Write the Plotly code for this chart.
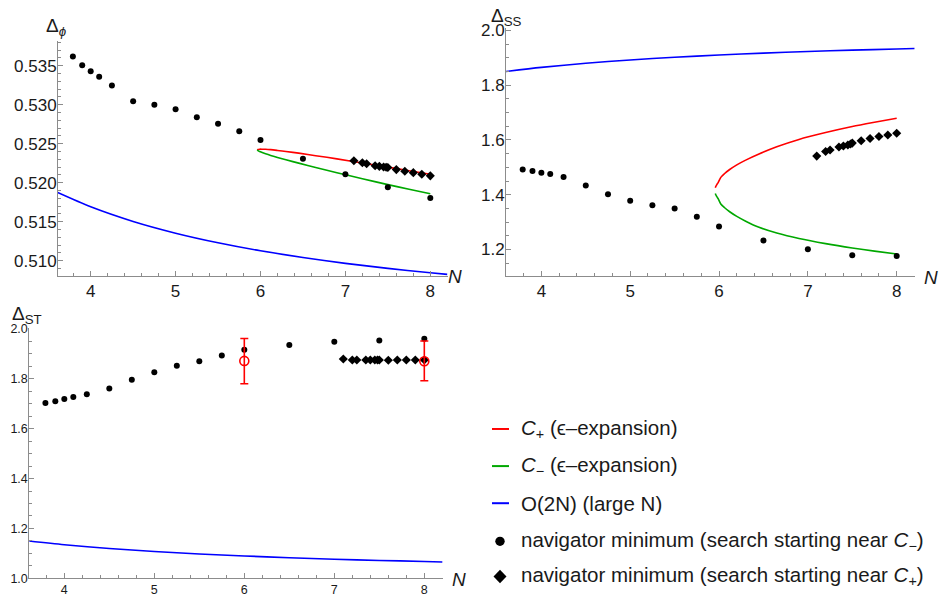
import plotly.graph_objects as go

# ---------------- data ----------------
N_dots = [3.79, 3.9, 4.0, 4.1, 4.25, 4.5, 4.75, 5.0, 5.25, 5.5, 5.75, 6.0, 6.5, 7.0, 7.5, 8.0]
phi_dots = [0.53617, 0.53504, 0.53429, 0.53358, 0.53245, 0.53045, 0.52998, 0.52940,
            0.52839, 0.52756, 0.52660, 0.52547, 0.52308, 0.52108, 0.51941, 0.51803]
ss_dots = [1.4923, 1.4863, 1.4804, 1.4756, 1.4649, 1.4340, 1.4019, 1.3780,
           1.3615, 1.3496, 1.3199, 1.2842, 1.2330, 1.2010, 1.1795, 1.1760]
st_dots = [1.7027, 1.7093, 1.7184, 1.7262, 1.7379, 1.7601, 1.7953, 1.8253,
           1.8514, 1.8696, 1.8931, 1.9153, 1.9348, 1.9478, 1.9531, 1.9596]

N_diam = [7.1, 7.2, 7.25, 7.35, 7.4, 7.45, 7.48, 7.5, 7.6, 7.7, 7.8, 7.9, 8.0]
phi_diam = [0.52280, 0.52255, 0.52243, 0.52217, 0.52209, 0.52201, 0.52197, 0.52194,
            0.52167, 0.52147, 0.52128, 0.52107, 0.52087]
ss_diam = [1.5410, 1.5577, 1.5636, 1.5743, 1.5780, 1.5814, 1.5850, 1.5886,
           1.5970, 1.6052, 1.6124, 1.6183, 1.6243]
st_diam = [1.8787, 1.8748, 1.8748, 1.8748, 1.8748, 1.8748, 1.8748, 1.8748,
           1.8735, 1.8748, 1.8748, 1.8748, 1.8748]

# epsilon-expansion branches
N_phi_branch = [5.962, 5.97, 5.99, 6.02, 6.06, 6.12, 6.2, 6.3, 6.45, 6.65, 6.9,
                7.2, 7.5, 7.75, 8.0]
phi_plus = [0.52420, 0.52426, 0.52429, 0.52429, 0.52428, 0.52423, 0.52413, 0.52399,
            0.52378, 0.52346, 0.52305, 0.52252, 0.52199, 0.52153, 0.52107]
phi_minus = [0.52420, 0.52410, 0.52399, 0.52385, 0.52370, 0.52349, 0.52323, 0.52293,
             0.52250, 0.52194, 0.52127, 0.52050, 0.51975, 0.51915, 0.51858]

N_ss_branch = [5.958, 5.965, 5.975, 5.99, 6.02, 6.06, 6.12, 6.2, 6.3, 6.45, 6.65,
               6.9, 7.2, 7.5, 7.75, 8.0]
ss_plus = [1.4254, 1.4310, 1.4370, 1.4440, 1.4635, 1.4766, 1.4921, 1.5091, 1.5265,
           1.5488, 1.5750, 1.6020, 1.6270, 1.6490, 1.6645, 1.6790]
ss_minus = [1.4046, 1.3990, 1.3930, 1.3860, 1.3665, 1.3534, 1.3379, 1.3209, 1.3035,
            1.2812, 1.2602, 1.2402, 1.2215, 1.2057, 1.1942, 1.1836]

# large-N curves
N_large = [3.6, 4.0, 4.5, 5.0, 5.5, 6.0, 6.5, 7.0, 7.5, 8.0, 8.2]
phi_large = [0.51878, 0.51690, 0.51502, 0.51352, 0.51229, 0.51126, 0.51040, 0.50965,
             0.50901, 0.50844, 0.50824]
ss_large = [1.850, 1.865, 1.880, 1.892, 1.902, 1.910, 1.917, 1.923, 1.928, 1.932, 1.934]
st_large = [1.150, 1.135, 1.120, 1.108, 1.098, 1.090, 1.083, 1.077, 1.072, 1.068, 1.066]

# error-bar estimates (Delta_ST)
N_err = [6.0, 8.0]
st_err = [1.8709, 1.8696]
st_err_plus = [0.0900, 0.0809]
st_err_minus = [0.0912, 0.0782]

legend_labels = [
    "<i>C</i><sub>+</sub> (ϵ–expansion)",
    "<i>C</i><sub>−</sub> (ϵ–expansion)",
    "O(2N) (large N)",
    "navigator minimum (search starting near <i>C</i><sub>−</sub>)",
    "navigator minimum (search starting near <i>C</i><sub>+</sub>)",
]

# ---------------- styling ----------------
W, H = 940, 603
RED, GREEN, BLUE = "#ff0000", "#00a800", "#0000ff"
AX = "#8c8c8c"
TXT = "#1a1a1a"
FONT = "Liberation Sans"


def fx(p):
    return p / W


def fy(p):
    return 1 - p / H


fig = go.Figure()


def add_lines(xa, ya, n_list, y_list, color):
    fig.add_trace(go.Scatter(x=n_list, y=y_list, mode="lines", xaxis=xa, yaxis=ya,
                             line=dict(color=color, width=1.6, shape="spline", smoothing=0.8),
                             showlegend=False, hoverinfo="skip"))


def add_pts(xa, ya, n_list, y_list, symbol, size):
    fig.add_trace(go.Scatter(x=n_list, y=y_list, mode="markers", xaxis=xa, yaxis=ya,
                             marker=dict(color="black", symbol=symbol, size=size),
                             showlegend=False))


# panel 1: Delta_phi
add_lines("x", "y", N_large, phi_large, BLUE)
add_lines("x", "y", N_phi_branch, phi_plus, RED)
add_lines("x", "y", N_phi_branch, phi_minus, GREEN)
add_pts("x", "y", N_dots, phi_dots, "circle", 6)
add_pts("x", "y", N_diam, phi_diam, "diamond", 7)

# panel 2: Delta_SS
add_lines("x2", "y2", N_large, ss_large, BLUE)
add_lines("x2", "y2", N_ss_branch, ss_plus, RED)
add_lines("x2", "y2", N_ss_branch, ss_minus, GREEN)
add_pts("x2", "y2", N_dots, ss_dots, "circle", 6)
add_pts("x2", "y2", N_diam, ss_diam, "diamond", 7)

# panel 3: Delta_ST
add_lines("x3", "y3", N_large, st_large, BLUE)
add_pts("x3", "y3", N_dots, st_dots, "circle", 6)
add_pts("x3", "y3", N_diam, st_diam, "diamond", 7)
fig.add_trace(go.Scatter(
    x=N_err, y=st_err, mode="markers", xaxis="x3", yaxis="y3",
    marker=dict(symbol="circle-open", size=9, color=RED, line=dict(width=1.6, color=RED)),
    error_y=dict(type="data", symmetric=False, array=st_err_plus, arrayminus=st_err_minus,
                 color=RED, thickness=1.6, width=4),
    showlegend=False))


def axis(domain, rng, dtick, minor_dtick, fmt, size, anchor, tick0=None, standoff=0):
    d = dict(domain=domain, range=rng, anchor=anchor, showline=True, linecolor=AX,
             linewidth=1, ticks="inside", ticklen=5, tickwidth=1, tickcolor=AX,
             showgrid=False, zeroline=False, dtick=dtick, ticklabelstandoff=standoff,
             tickfont=dict(family=FONT, size=size, color=TXT),
             minor=dict(ticks="inside", ticklen=3, tickwidth=1, tickcolor=AX,
                        dtick=minor_dtick, showgrid=False))
    if fmt:
        d["tickformat"] = fmt
    if tick0 is not None:
        d["tick0"] = tick0
        d["minor"]["tick0"] = tick0
    return d


layout = dict(
    width=W, height=H, margin=dict(l=0, r=0, t=0, b=0),
    paper_bgcolor="white", plot_bgcolor="white", showlegend=False,
    xaxis=axis([fx(58), fx(447.7)], [3.615, 8.205], 1, 0.2, None, 17, "y", 4),
    yaxis=axis([fy(275.3), fy(35)], [0.50804, 0.53814], 0.005, 0.001, ".3f", 17, "x", 0.51, -3),
    xaxis2=axis([fx(506), fx(915)], [3.602, 8.206], 1, 0.2, None, 17, "y2", 4),
    yaxis2=axis([fy(275.3), fy(21.7)], [1.1037, 2.008], 0.2, 0.05, ".1f", 17, "x2", 1.2, -3),
    xaxis3=axis([fx(29.3), fx(443.3)], [3.611, 8.211], 1, 0.2, None, 12.5, "y3", 4),
    yaxis3=axis([fy(585), fy(328.3)], [1.0, 2.004], 0.2, 0.05, ".1f", 12.5, "x3", 1.0, -2),
)
fig.update_layout(**layout)

ann = []


def label(text, x, y, size, xanchor="left", yanchor="middle"):
    ann.append(dict(text=text, x=fx(x), y=fy(y), xref="paper", yref="paper",
                    showarrow=False, xanchor=xanchor, yanchor=yanchor,
                    font=dict(family=FONT, size=size, color=TXT)))


label("Δ<sub><i>ϕ</i></sub>", 44, 20, 19)
label("Δ<sub>SS</sub>", 489, 10, 19)
label("Δ<sub>ST</sub>", 10, 315, 19)
label("<i>N</i>", 446, 276, 19)
label("<i>N</i>", 922, 277, 19)
label("<i>N</i>", 450, 586, 19)

rows = [432, 470, 508, 547, 583]
for text, ry in zip(legend_labels, rows):
    label(text, 519, ry, 20.5)

fig.update_layout(annotations=ann)

shapes = []
for color, ry in zip([RED, GREEN, BLUE], rows[:3]):
    shapes.append(dict(type="line", xref="paper", yref="paper", x0=fx(492), x1=fx(509),
                       y0=fy(ry), y1=fy(ry), line=dict(color=color, width=2)))
cx, cy = 500, rows[3]
shapes.append(dict(type="circle", xref="paper", yref="paper", x0=fx(cx - 4.7), x1=fx(cx + 4.7),
                   y0=fy(cy + 4.7), y1=fy(cy - 4.7), fillcolor="black", line=dict(width=0)))
cx, cy = 500, rows[4]
path = "M {} {} L {} {} L {} {} L {} {} Z".format(
    fx(cx), fy(cy - 7), fx(cx + 6.5), fy(cy), fx(cx), fy(cy + 7), fx(cx - 6.5), fy(cy))
shapes.append(dict(type="path", xref="paper", yref="paper", path=path,
                   fillcolor="black", line=dict(width=0)))
fig.update_layout(shapes=shapes)

fig.write_html("out.html", config={"displayModeBar": False},
               post_script="document.body.style.margin='0';")
